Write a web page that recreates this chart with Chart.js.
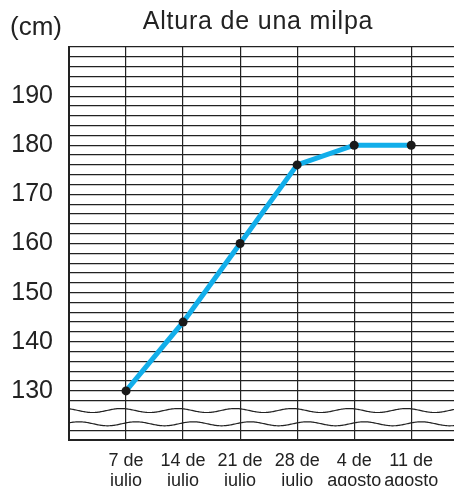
<!DOCTYPE html>
<html>
<head>
<meta charset="utf-8">
<script src="https://cdn.jsdelivr.net/npm/chart.js@4"></script>
<style>
  html, body { margin: 0; padding: 0; background: #fff; }
  #chart { display: block; }
</style>
</head>
<body>
<canvas id="chart" width="454" height="486"></canvas>
<script>
// --- Data ---
const dateLabels = [['7 de', 'julio'], ['14 de', 'julio'], ['21 de', 'julio'], ['28 de', 'julio'], ['4 de', 'agosto'], ['11 de', 'agosto']];
const heights = [130, 144, 160, 176, 180, 180];
const yLabelValues = [130, 140, 150, 160, 170, 180, 190];
const breakValues = [124, 126]; // gridlines replaced by the wavy axis break

const INK = '#222';
const FONT = "'Liberation Sans', Arial, sans-serif";

// --- Title, unit label and axis-break waves ---
const decorations = {
    id: 'decorations',
    beforeDatasetsDraw(chart) {
        const { ctx, chartArea: a, scales: { x, y } } = chart;
        const period = x.getPixelForValue(1) - x.getPixelForValue(0);
        const waves = [{ v: 126, peak: x.getPixelForValue(1) - 5 }, { v: 123.3, peak: x.getPixelForValue(1) + 10 }];
        ctx.save();
        ctx.strokeStyle = INK;
        ctx.lineWidth = 1.2;
        waves.forEach(w => {
            const y0 = y.getPixelForValue(w.v);
            ctx.beginPath();
            for (let px = a.left; px <= a.right; px++) {
                const py = y0 - 2 * Math.cos(2 * Math.PI * (px - w.peak) / period);
                if (px === a.left) ctx.moveTo(px, py); else ctx.lineTo(px, py);
            }
            ctx.stroke();
        });
        ctx.restore();
    },
    afterDraw(chart) {
        const { ctx } = chart;
        ctx.save();
        ctx.fillStyle = INK;
        ctx.textBaseline = 'alphabetic';
        ctx.font = '25px ' + FONT;
        ctx.textAlign = 'center';
        ctx.letterSpacing = '0.8px';
        ctx.fillText('Altura de una milpa', 258, 29);
        ctx.letterSpacing = '0px';
        ctx.textAlign = 'left';
        ctx.font = '26px ' + FONT;
        ctx.fillText('(cm)', 10, 35);
        ctx.restore();
    }
};

new Chart(document.getElementById('chart'), {
    type: 'line',
    data: {
        datasets: [{
            data: heights.map((h, i) => ({ x: i + 1, y: h })),
            borderColor: '#12aeea',
            borderWidth: 5,
            pointRadius: 4.5,
            pointBackgroundColor: '#1a1a1a',
            pointBorderWidth: 0,
            tension: 0,
        }]
    },
    options: {
        responsive: false,
        animation: false,
        layout: { autoPadding: false, padding: { top: 47, right: 0, left: 0, bottom: 0 } },
        plugins: { legend: { display: false }, tooltip: { enabled: false } },
        scales: {
            x: {
                type: 'linear',
                min: 0,
                max: 6.75,
                afterFit: s => { s.height = 46; },
                grid: { color: INK, lineWidth: 1.2, drawTicks: false },
                border: { color: INK, width: 2 },
                ticks: {
                    stepSize: 1,
                    includeBounds: false,
                    autoSkip: false,
                    maxRotation: 0,
                    padding: 11,
                    color: INK,
                    font: { family: FONT, size: 18, lineHeight: 1.1 },
                    callback: v => (v >= 1 && v <= dateLabels.length) ? dateLabels[v - 1] : ''
                }
            },
            y: {
                min: 120,
                max: 200,
                afterFit: s => { s.width = 69; },
                grid: {
                    drawTicks: false,
                    lineWidth: 1.2,
                    color: c => breakValues.includes(c.tick.value) ? 'rgba(0,0,0,0)' : INK
                },
                border: { color: INK, width: 2 },
                ticks: {
                    stepSize: 2,
                    autoSkip: false,
                    padding: 16,
                    color: INK,
                    font: { family: FONT, size: 25 },
                    callback: v => yLabelValues.includes(v) ? String(v) : ''
                }
            }
        }
    },
    plugins: [decorations]
});
</script>
</body>
</html>
